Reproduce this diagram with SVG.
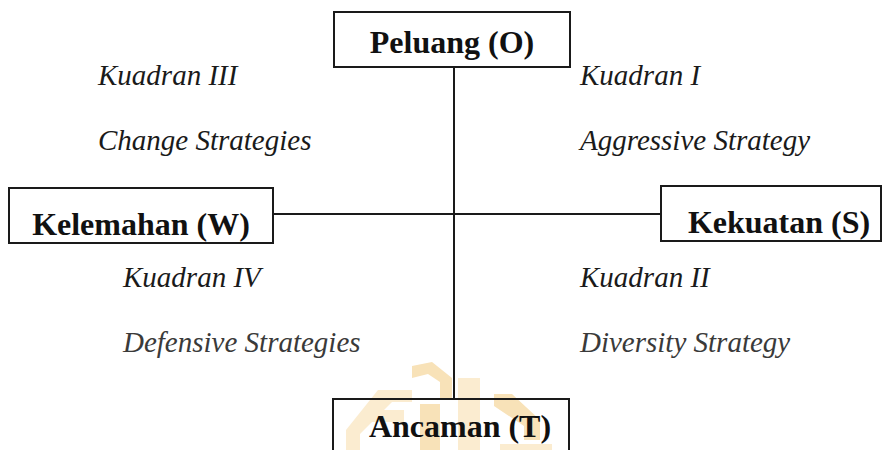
<svg xmlns="http://www.w3.org/2000/svg" width="883" height="450" viewBox="0 0 883 450">
<style>
.box{fill:none;stroke:#1a1a1a;stroke-width:2}
.lbl{font-family:"Liberation Serif","Times New Roman",serif;font-weight:bold;font-size:32px;fill:#111;text-anchor:middle}
.it{font-family:"Liberation Serif","Times New Roman",serif;font-style:italic;font-size:29px;fill:#1a1a1a}
.it2{fill:#3a3a3a}
.line{stroke:#1a1a1a;stroke-width:2;fill:none}
.wa{fill:#f8e2b8}
.wb{fill:#fbecd0}
</style>
<rect width="883" height="450" fill="#fff"/>
<g id="watermark">
<polygon class="wa" points="412,366 432,362 452,378 452,398 440,398 440,382 428,374 412,378"/>
<polygon class="wb" points="378,390 412,390 412,402 392,402 360,434 360,450 346,450 346,430"/>
<polygon class="wa" points="420,404 440,404 440,450 420,450"/>
<polygon class="wb" points="458,378 480,378 480,450 458,450"/>
<polygon class="wa" points="494,394 512,394 540,420 540,440 524,440 524,426 494,406"/>
<polygon class="wb" points="372,410 404,410 404,422 372,422"/>
<polygon class="wb" points="500,444 552,444 552,450 500,450"/>
</g>
<g id="connectors">
<line class="line" x1="454" y1="67" x2="454" y2="399"/>
<line class="line" x1="273" y1="214" x2="661" y2="214"/>
</g>
<g id="node-peluang">
<rect class="box" x="334" y="12" width="236" height="55"/>
<text class="lbl" x="452" y="53">Peluang (O)</text>
</g>
<g id="node-kelemahan">
<rect class="box" x="9" y="188" width="264" height="55"/>
<text class="lbl" x="141" y="235">Kelemahan (W)</text>
</g>
<g id="node-kekuatan">
<rect class="box" x="661" y="186" width="220" height="55"/>
<text class="lbl" x="779" y="233">Kekuatan (S)</text>
</g>
<g id="node-ancaman">
<rect class="box" x="333" y="399" width="236" height="60"/>
<text class="lbl" x="460" y="437">Ancaman (T)</text>
</g>
<g id="quadrants">
<text class="it" x="98" y="85">Kuadran III</text>
<text class="it" x="98" y="150">Change Strategies</text>
<text class="it" x="580" y="85">Kuadran I</text>
<text class="it" x="580" y="150">Aggressive Strategy</text>
<text class="it" x="123" y="287">Kuadran IV</text>
<text class="it it2" x="123" y="352">Defensive Strategies</text>
<text class="it" x="580" y="287">Kuadran II</text>
<text class="it it2" x="580" y="352">Diversity Strategy</text>
</g>
</svg>
